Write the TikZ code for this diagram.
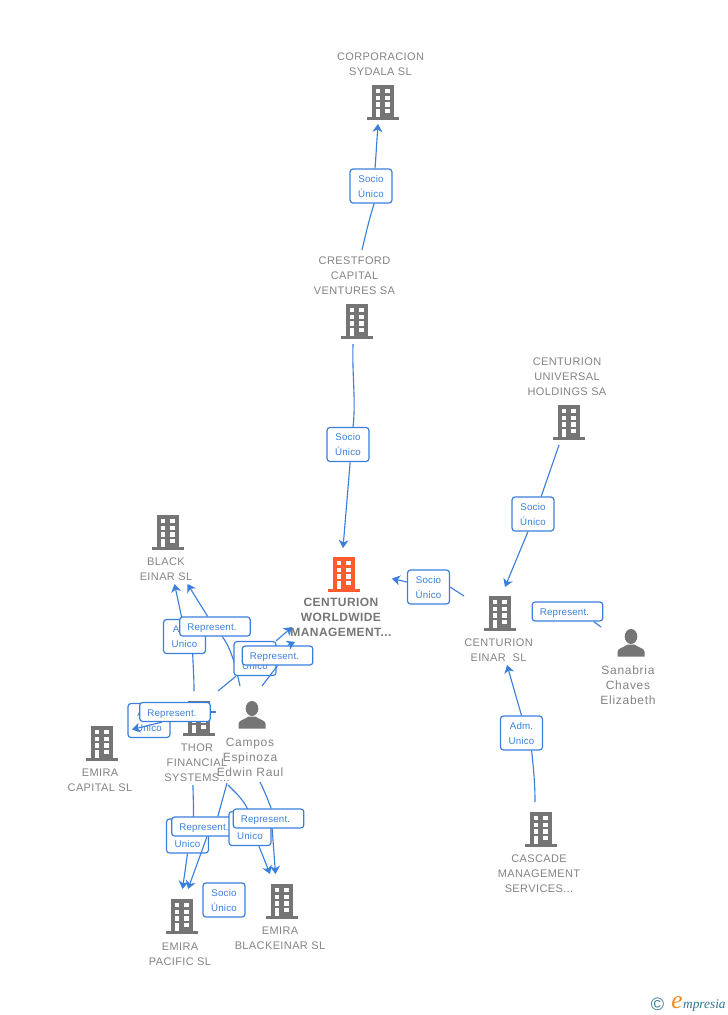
\documentclass[tikz,border=0pt]{standalone}
\usepackage{fontspec}
\usetikzlibrary{arrows.meta}
\setmainfont{Liberation Sans}
\newfontfamily\lab[LetterSpace=3.5]{Liberation Sans}
\newfontfamily\plab[LetterSpace=6]{Liberation Sans}
\newfontfamily\tagf[LetterSpace=2]{Liberation Sans}
\newfontfamily\logof{Liberation Serif}
\definecolor{ink}{HTML}{838383}
\definecolor{icon}{HTML}{757575}
\definecolor{hot}{HTML}{FF5B2E}
\definecolor{link}{HTML}{3B7FDD}
\definecolor{logoblue}{HTML}{2F7595}
\definecolor{logoorange}{HTML}{F28A1E}
\newcommand{\dn}{\rule{0pt}{6pt}}
\newcommand{\reptext}{\rule{0pt}{8pt}Represent.\hspace{4.5pt}}
\tikzset{
  x=0.75pt,y=-0.75pt,
  name text/.style={font=\lab\fontsize{8.25}{11.25}\selectfont,text=ink,align=center,inner sep=0pt},
  main text/.style={font=\lab\bfseries\fontsize{9}{11.25}\selectfont,text=ink!90!black,align=center,inner sep=0pt},
  person text/.style={font=\plab\fontsize{9}{11.25}\selectfont,text=ink,align=center,inner sep=0pt},
  iconbox/.style={inner sep=0pt,minimum width=24pt,minimum height=25.5pt},
  tagbase/.style={draw=link,fill=white,line width=0.9pt,rounded corners=2.25pt,text=link,inner sep=0pt,align=center,
    font=\tagf\fontsize{7.3}{11.25}\selectfont},
  two/.style={tagbase,minimum width=31.5pt,minimum height=25.5pt},
  rep/.style={tagbase,minimum width=53pt,minimum height=14.25pt},
  wire/.style={draw=link,line width=0.85pt},
  arrow/.style={wire,-{Stealth[length=6pt,width=7.5pt,inset=1.8pt]}},
}
\newcommand{\bldg}[3]{%
  \node[iconbox] (#1) at (#2) {};
  \begin{scope}[shift={(#1.center)}]
    \fill[#3] (-16,15) rectangle (16,17.5);
    \fill[#3] (-11.3,-17) rectangle (11.3,15);
    \fill[white] (-7.3,-12.7) rectangle (-3,-8.7);
    \fill[white] (2,-12.7) rectangle (7,-8.7);
    \fill[white] (-7.3,-6) rectangle (-3,-2);
    \fill[white] (2,-6) rectangle (7,-2);
    \fill[white] (-7.3,0.3) rectangle (-3,4.7);
    \fill[white] (2,0.3) rectangle (7,4.7);
    \fill[white] (-7.3,7) rectangle (-3,15);
    \fill[white] (2,7) rectangle (7,11.3);
  \end{scope}}
\newcommand{\pers}[2]{%
  \node[iconbox] (#1) at (#2) {};
  \begin{scope}[shift={(#1.center)}]
    \fill[icon] (0,-6.5) ellipse (6.3 and 7.5);
    \fill[icon] (-13.5,13.5) -- (-13.5,8.5) .. controls (-13,5) and (-7,4.5) .. (-3.5,1.5)
      -- (3.5,1.5) .. controls (7,4.5) and (13,5) .. (13.5,8.5) -- (13.5,13.5) -- cycle;
  \end{scope}}
\begin{document}
\begin{tikzpicture}
\useasboundingbox (0,0) rectangle (728,1015);

% icons
\bldg{corp}{383,102}{icon}
\bldg{crest}{357,321}{icon}
\bldg{univ}{569,422}{icon}
\bldg{world}{344,574}{hot}
\bldg{einar}{500,613}{icon}
\bldg{black}{168,532}{icon}
\bldg{thor}{199,718}{icon}
\bldg{capital}{102,743}{icon}
\bldg{pacific}{182,916}{icon}
\bldg{blackeinar}{282,901}{icon}
\bldg{cascade}{541,829}{icon}
\pers{campos}{252,715}
\pers{sanabria}{631,643}

% names
\node[name text] (corpt) at (380.5,64.5) {CORPORACION\\SYDALA SL};
\node[name text] (crestt) at (354.5,276) {CRESTFORD\\CAPITAL\\VENTURES SA};
\node[name text] (univt) at (567,377) {CENTURION\\UNIVERSAL\\HOLDINGS SA};
\node[main text] (worldt) at (341,617.5) {CENTURION\\WORLDWIDE\\MANAGEMENT...};
\node[name text] (einart) at (498.5,650.5) {CENTURION\\EINAR\ \ SL};
\node[person text] (sanabriat) at (628,685.5) {Sanabria\\Chaves\\Elizabeth};
\node[name text] (blackt) at (166,569.5) {BLACK\\EINAR SL};
\node[name text] (thort) at (197,763) {THOR\\FINANCIAL\\SYSTEMS...};
\node[person text] (campost) at (250,757.5) {Campos\\Espinoza\\Edwin Raul};
\node[name text] (capitalt) at (100,780.5) {EMIRA\\CAPITAL SL};
\node[name text] (pacifict) at (180,954.5) {EMIRA\\PACIFIC SL};
\node[name text] (blackeinart) at (280,938.5) {EMIRA\\BLACKEINAR SL};
\node[name text] (cascadet) at (539,874) {CASCADE\\MANAGEMENT\\SERVICES...};

% free ends of connectors
\coordinate (t1) at (362,250);   \coordinate (h1) at (378,124);
\coordinate (t2) at (353,344);   \coordinate (h2) at (343,548);
\coordinate (t3) at (559,445);   \coordinate (h3) at (505,587);
\coordinate (t4) at (464,596);   \coordinate (h4) at (392,578.5);
\coordinate (t5) at (535,802);   \coordinate (h5) at (507,665);
\coordinate (t6) at (601,627);
\coordinate (t7) at (194,691);   \coordinate (h7) at (174.5,584);
\coordinate (t8) at (240,686);   \coordinate (h8) at (187.5,584);
\coordinate (t9) at (218,691);   \coordinate (h9) at (292,627);
\coordinate (t10) at (262,686);  \coordinate (h10) at (295,642);
\coordinate (t11) at (216,712);  \coordinate (h11) at (132,729.5);
\coordinate (t12) at (193,785);  \coordinate (h12) at (182.5,889);
\coordinate (t13) at (227,783);  \coordinate (h13) at (188,889);
\coordinate (t14) at (228,785);  \coordinate (h14) at (270,874);
\coordinate (t15) at (260,782);  \coordinate (h15) at (275.5,874);

% tags and their connectors, stacked in order
\node[two] (a) at (371,186) {\dn Socio\\Único};
\draw[wire] (t1) .. controls (366,233) and (369,220) .. (a.280);
\draw[arrow] (a.77) -- (h1);

\node[two] (b) at (348,444.5) {\dn Socio\\Único};
\draw[wire] (t2) .. controls (352,375) and (356,400) .. (b.74);
\draw[arrow] (b.277) -- (h2);

\node[two] (c) at (533,514) {\dn Socio\\Único};
\draw[wire] (t3) -- (c.65);
\draw[arrow] (c.254) -- (h3);

\node[two] (d) at (428.5,587) {\dn Socio\\Único};
\draw[wire] (t4) -- (d.east);
\draw[arrow] (d.167) -- (h4);

\node[two] (e) at (521.5,733) {\dn Adm.\\Unico};
\draw[wire] (t5) .. controls (535,780) and (533,765) .. (e.300);
\draw[arrow] (e.north) -- (h5);

\node[rep] (f) at (567.5,611.5) {\reptext};
\draw[wire] (t6) -- (f.339);

\node[two] (g) at (184.5,636.5) {\dn Adm.\\Unico};
\draw[wire] (t7) .. controls (194,675) and (193,665) .. (g.295);
\draw[arrow] (g.98) -- (h7);

\node[rep] (i) at (215,626.5) {\reptext};
\draw[wire] (t8) .. controls (236,668) and (232,650) .. (i.306);
\draw[arrow] (i.126) -- (h8);

\node[two] (j) at (255,658.5) {\dn Adm.\\Unico};
\draw[wire] (t9) -- (j.223);
\draw[arrow] (j.40) -- (h9);

\node[rep] (k) at (277.5,655.5) {\reptext};
\draw[wire] (t10) -- (k.south);
\draw[arrow] (k.45) -- (h10);

\node[two] (l) at (149,720.5) {\dn Adm.\\Unico};

\node[rep] (m) at (175,712) {\reptext};
\draw[wire] (t11) -- (m.east);
\draw[arrow] (m.218) -- (h11);

\node[two] (n) at (187.5,836) {\dn Adm.\\Unico};
\draw[wire] (t12) .. controls (193,797) and (194,808) .. (n.72);
\draw[arrow] (n.south) -- (h12);

\node[rep] (o) at (207,826.5) {\reptext};
\draw[wire] (t13) -- (o.43);
\draw[arrow] (o.south) -- (h13);

\node[two] (p) at (250,828.5) {\dn Adm.\\Unico};
\draw[wire] (t14) .. controls (235,792) and (244,800) .. (p.95);
\draw[arrow] (p.297) -- (h14);

\node[rep] (q) at (268.5,818.5) {\reptext};
\draw[wire] (t15) .. controls (264,790) and (268,800) .. (q.75);
\draw[arrow] (q.290) -- (h15);

\node[two] (r) at (224,900) {\dn Socio\\Único};

% logo
\node[inner sep=0pt,text=logoblue,font=\fontsize{13.5}{14}\selectfont] (copy) at (657.5,1004) {©};
\node[inner sep=0pt,anchor=base west,font=\logof\itshape\fontsize{10}{12}\selectfont,text=logoblue] (brand) at (671,1008.5)
  {{\color{logoorange}\fontsize{19}{12}\selectfont e}\hspace{0.5pt}mpresia};
\end{tikzpicture}
\end{document}
